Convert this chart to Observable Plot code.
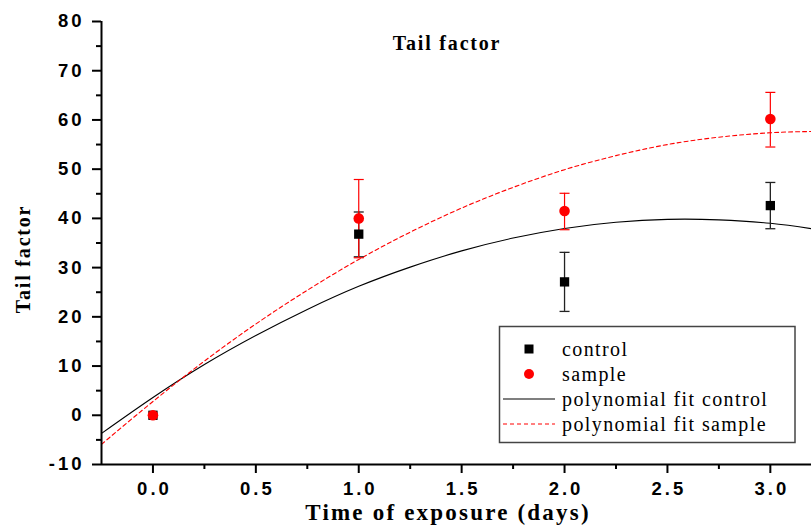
<!DOCTYPE html>
<html><head><meta charset="utf-8">
<script src="https://cdn.jsdelivr.net/npm/d3@7"></script>
<script src="https://cdn.jsdelivr.net/npm/@observablehq/plot@0.6"></script>
<style>body{margin:0;background:#fff}</style>
</head><body><div id="chart"></div>
<script>
const days = [0, 1, 2, 3];
const controlMean = [0, 36.8, 27.1, 42.6];
const controlLow = [0, 32.2, 21.1, 37.9];
const controlHigh = [0, 41.3, 33.1, 47.3];
const sampleMean = [0, 40.0, 41.5, 60.2];
const sampleLow = [0, 32.0, 37.7, 54.5];
const sampleHigh = [0, 47.9, 45.1, 65.6];

const fitX = [-0.25, 0, 0.25, 0.5, 0.75, 1, 1.25, 1.5, 1.75, 2, 2.25, 2.5, 2.75, 3, 3.2];
const fitControl = [-3.7, 3.6, 10.3, 16.2, 21.5, 26.2, 30.1, 33.4, 36.0, 37.95, 39.2, 39.8, 39.7, 39.0, 37.9];
const fitSample = [-5.9, 2.8, 11.0, 18.55, 25.4, 31.65, 37.2, 42.1, 46.3, 49.9, 52.75, 55.0, 56.5, 57.4, 57.65];

const xMajor = [0, 0.5, 1, 1.5, 2, 2.5, 3];
const xMinor = [0.25, 0.75, 1.25, 1.75, 2.25, 2.75];
const yMajor = [-10, 0, 10, 20, 30, 40, 50, 60, 70, 80];
const yMinor = [-5, 5, 15, 25, 35, 45, 55, 65, 75];

const legendLabels = ["control", "sample", "polynomial fit control", "polynomial fit sample"];
const titleText = "Tail factor";
const xLabel = "Time of exposure (days)";
const yLabel = "Tail factor";

const control = days.map((d, i) => ({x: d, y: controlMean[i], lo: controlLow[i], hi: controlHigh[i]}));
const sample = days.map((d, i) => ({x: d, y: sampleMean[i], lo: sampleLow[i], hi: sampleHigh[i]}));
const fitC = fitX.map((x, i) => ({x, y: fitControl[i]}));
const fitS = fitX.map((x, i) => ({x, y: fitSample[i]}));

const capSymbol = {draw(ctx, size) { const w = Math.sqrt(size); ctx.moveTo(-w / 2, 0); ctx.lineTo(w / 2, 0); }};
const capR = 10 / Math.sqrt(Math.PI);

const svg = Plot.plot({
  width: 811, height: 529,
  marginLeft: 101, marginRight: 0, marginTop: 21, marginBottom: 65,
  style: {fontFamily: "'Liberation Sans', Arial, sans-serif", fontWeight: "bold", fontSize: "18.5px", color: "#000", background: "#fff", overflow: "visible"},
  x: {domain: [-0.25, 3.2]},
  y: {domain: [-10, 80]},
  marks: [
    Plot.line(fitC, {x: "x", y: "y", curve: "natural", stroke: "#000", strokeWidth: 1.1, clip: true}),
    Plot.line(fitS, {x: "x", y: "y", curve: "natural", stroke: "#ff0000", strokeWidth: 1.1, strokeDasharray: "4,3", clip: true}),
    Plot.ruleX(control.filter(d => d.hi > d.lo), {x: "x", y1: "lo", y2: "hi", stroke: "#222", strokeWidth: 1.3}),
    Plot.dot(control.filter(d => d.hi > d.lo), {x: "x", y: "lo", symbol: capSymbol, r: capR, stroke: "#222", strokeWidth: 1.3, fill: "none"}),
    Plot.dot(control.filter(d => d.hi > d.lo), {x: "x", y: "hi", symbol: capSymbol, r: capR, stroke: "#222", strokeWidth: 1.3, fill: "none"}),
    Plot.ruleX(sample.filter(d => d.hi > d.lo), {x: "x", y1: "lo", y2: "hi", stroke: "#ff0000", strokeWidth: 1.2}),
    Plot.dot(sample.filter(d => d.hi > d.lo), {x: "x", y: "lo", symbol: capSymbol, r: capR, stroke: "#ff0000", strokeWidth: 1.2, fill: "none"}),
    Plot.dot(sample.filter(d => d.hi > d.lo), {x: "x", y: "hi", symbol: capSymbol, r: capR, stroke: "#ff0000", strokeWidth: 1.2, fill: "none"}),
    Plot.dot(control, {x: "x", y: "y", symbol: "square", r: 5.25, fill: "#000", stroke: "none"}),
    Plot.dot(sample, {x: "x", y: "y", symbol: "circle", r: 5.3, fill: "#ff0000", stroke: "none"}),
    Plot.axisY({ticks: yMajor, tickSize: 9, tickPadding: 8, strokeWidth: 2, label: null, tickFormat: d => String(d)}),
    Plot.axisY({ticks: yMinor, tickSize: 5, strokeWidth: 2, text: null, label: null}),
    Plot.axisX({ticks: xMajor, tickSize: 9, tickPadding: 8.5, strokeWidth: 2, label: null, tickFormat: d3.format(".1f")}),
    Plot.axisX({ticks: xMinor, tickSize: 5, strokeWidth: 2, text: null, label: null}),
    Plot.ruleY([-10], {stroke: "#000", strokeWidth: 2}),
    Plot.ruleX([-0.25], {stroke: "#000", strokeWidth: 2})
  ]
});

const s = d3.select(svg);
s.selectAll("g[aria-label='y-axis tick label'] text").style("letter-spacing", "3px");
s.selectAll("g[aria-label='x-axis tick label'] text").style("letter-spacing", "3px").attr("dx", 1.5);

const serif = "'Liberation Serif', 'Times New Roman', serif";
s.append("text").attr("x", 447).attr("y", 50).attr("text-anchor", "middle")
  .style("font-family", serif).style("font-size", "20px").style("font-weight", "bold").style("letter-spacing", "1.8px")
  .text(titleText);
s.append("text").attr("x", 448).attr("y", 520).attr("text-anchor", "middle")
  .style("font-family", serif).style("font-size", "23px").style("font-weight", "bold").style("letter-spacing", "2.2px")
  .text(xLabel);
s.append("text").attr("transform", "translate(30,259) rotate(-90)").attr("text-anchor", "middle")
  .style("font-family", serif).style("font-size", "20px").style("font-weight", "bold").style("letter-spacing", "1.8px")
  .text(yLabel);

// legend
const lg = s.append("g").attr("text-anchor", "start");
lg.append("rect").attr("x", 499.5).attr("y", 326.5).attr("width", 295.5).attr("height", 116)
  .attr("fill", "#fff").attr("stroke", "#444").attr("stroke-width", 1.5);
const rowY = [349, 374, 399, 424];
lg.append("rect").attr("x", 524.5).attr("y", rowY[0] - 4.5).attr("width", 9).attr("height", 9).attr("fill", "#000");
lg.append("circle").attr("cx", 529).attr("cy", rowY[1]).attr("r", 5).attr("fill", "#ff0000");
lg.append("line").attr("x1", 503).attr("x2", 555).attr("y1", rowY[2]).attr("y2", rowY[2]).attr("stroke", "#000").attr("stroke-width", 1.1);
lg.append("line").attr("x1", 503).attr("x2", 555).attr("y1", rowY[3]).attr("y2", rowY[3]).attr("stroke", "#ff0000").attr("stroke-width", 1.1).attr("stroke-dasharray", "4,3");
legendLabels.forEach((t, i) => {
  lg.append("text").attr("x", 562).attr("y", rowY[i] + 6.5).attr("text-anchor", "start")
    .style("font-family", serif).style("font-size", "20px").style("font-weight", "normal").style("letter-spacing", "1.4px")
    .text(t);
});

document.getElementById("chart").appendChild(svg);
</script>
</body></html>
